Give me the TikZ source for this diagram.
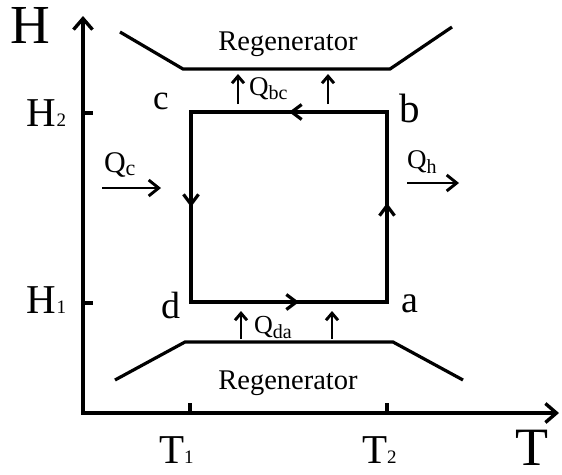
\documentclass[tikz,border=0pt]{standalone}
\usepackage{fontspec}
\setmainfont{Liberation Serif}
\usetikzlibrary{arrows.meta,decorations.markings}
\newcommand{\smallsub}[3]{\raisebox{#1}{\fontsize{#2}{#2}\selectfont #3}}
\begin{document}
\begin{tikzpicture}[x=1pt,y=-1pt,
  lbl/.style={inner sep=0pt,outer sep=0pt,anchor=base},
  lblw/.style={inner sep=0pt,outer sep=0pt,anchor=base west},
  axisline/.style={line width=3.4pt,line join=miter,
    {Straight Barb[length=11pt,width=19pt]}-{Straight Barb[length=11pt,width=19pt]}},
  tick/.style={line width=3.2pt},
  cycleline/.style={line width=3.2pt,line join=miter},
  regen/.style={line width=3.2pt,line join=miter},
  heatarrow/.style={line width=2.9pt,-{Straight Barb[length=7pt,width=12pt]}},
  sidearrow/.style={line width=2.9pt,-{Straight Barb[length=10pt,width=16pt]}},
  flowmarks/.style={postaction={decorate},decoration={markings,
    mark=at position 99pt with {\arrow{Straight Barb[length=10pt,width=15pt]}},
    mark=at position 288pt with {\arrow{Straight Barb[length=10pt,width=15pt]}},
    mark=at position 481pt with {\arrow{Straight Barb[length=10pt,width=15pt]}},
    mark=at position 684pt with {\arrow{Straight Barb[length=10pt,width=15pt]}}}}
]
\useasboundingbox[fill=white] (0,0) rectangle (562,474);

% axes
\coordinate (O) at (83,413);
\coordinate (Ytop) at (83,16);
\coordinate (Xend) at (559,413);
\draw[axisline] (Ytop) -- (O) -- (Xend);

% ticks
\coordinate (h2a) at (83,113); \coordinate (h2b) at (93,113);
\coordinate (h1a) at (83,303); \coordinate (h1b) at (93,303);
\coordinate (t1a) at (190,413); \coordinate (t1b) at (190,403);
\coordinate (t2a) at (387,413); \coordinate (t2b) at (387,403);
\draw[tick] (h2a) -- (h2b);
\draw[tick] (h1a) -- (h1b);
\draw[tick] (t1a) -- (t1b);
\draw[tick] (t2a) -- (t2b);

% cycle
\coordinate (a) at (387,302);
\coordinate (b) at (387,112);
\coordinate (c) at (191,112);
\coordinate (d) at (191,302);
\draw[cycleline,flowmarks] (a) -- (b) -- (c) -- (d) -- cycle;

% regenerators
\coordinate (u1) at (120,32); \coordinate (u2) at (183,69);
\coordinate (u3) at (390,69); \coordinate (u4) at (452,27);
\draw[regen] (u1) -- (u2) -- (u3) -- (u4);
\coordinate (l1) at (115,380); \coordinate (l2) at (185,342);
\coordinate (l3) at (393,342); \coordinate (l4) at (463,380);
\draw[regen] (l1) -- (l2) -- (l3) -- (l4);

% heat arrows to regenerators
\coordinate (qb1s) at (238,104); \coordinate (qb1e) at (238,74);
\coordinate (qb2s) at (328,104); \coordinate (qb2e) at (328,74);
\draw[heatarrow] (qb1s) -- (qb1e);
\draw[heatarrow] (qb2s) -- (qb2e);
\coordinate (qd1s) at (241,339); \coordinate (qd1e) at (241,311);
\coordinate (qd2s) at (332,339); \coordinate (qd2e) at (332,311);
\draw[heatarrow] (qd1s) -- (qd1e);
\draw[heatarrow] (qd2s) -- (qd2e);

% side heat arrows
\coordinate (qcs) at (102,188); \coordinate (qce) at (161,188);
\coordinate (qhs) at (407,183); \coordinate (qhe) at (459,183);
\draw[sidearrow] (qcs) -- (qce);
\draw[sidearrow] (qhs) -- (qhe);

% labels
\node[lbl,font=\fontsize{55}{55}\selectfont] (Hlab) at (30,43) {H};
\node[lbl,font=\fontsize{54}{54}\selectfont] (Tlab) at (532,465) {T};
\node[lblw,font=\fontsize{41}{41}\selectfont] (H2lab) at (27,126) {H\smallsub{0pt}{19}{2}};
\node[lblw,font=\fontsize{41}{41}\selectfont] (H1lab) at (27,313) {H\smallsub{0pt}{19}{1}};
\node[lblw,font=\fontsize{41}{41}\selectfont] (T1lab) at (159,463) {T\smallsub{0pt}{19}{1}};
\node[lblw,font=\fontsize{41}{41}\selectfont] (T2lab) at (362,463) {T\smallsub{0pt}{19}{2}};

\node[lbl,font=\fontsize{35}{35}\selectfont] (clab) at (161,109) {c};
\node[lbl,font=\fontsize{41}{41}\selectfont] (blab) at (410,122) {b};
\node[lbl,font=\fontsize{38}{38}\selectfont] (dlab) at (171,318) {d};
\node[lbl,font=\fontsize{38}{38}\selectfont] (alab) at (410,312) {a};

\node[lbl,font=\fontsize{28.5}{28.5}\selectfont] (regup) at (288,50) {Regenerator};
\node[lbl,font=\fontsize{28.5}{28.5}\selectfont] (reglow) at (288,389) {Regenerator};

\node[lblw,font=\fontsize{27}{27}\selectfont] (qbclab) at (249,95) {Q\smallsub{-4pt}{20}{bc}};
\node[lblw,font=\fontsize{26}{26}\selectfont] (qdalab) at (254,333) {Q\smallsub{-5pt}{20}{da}};
\node[lblw,font=\fontsize{30}{30}\selectfont] (qclab) at (104,172) {Q\smallsub{-3pt}{22}{c}};
\node[lblw,font=\fontsize{27}{27}\selectfont] (qhlab) at (407,168) {Q\smallsub{-5pt}{20}{h}};
\end{tikzpicture}
\end{document}
